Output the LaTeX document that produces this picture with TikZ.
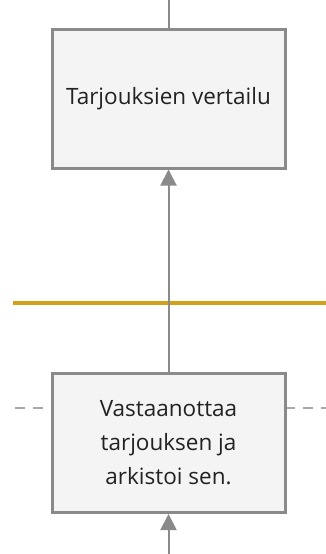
\documentclass[tikz,border=0pt]{standalone}
\usepackage{fontspec}
\setmainfont{Open Sans}
\usetikzlibrary{arrows.meta}
\definecolor{boxfill}{HTML}{F4F4F4}
\definecolor{boxline}{HTML}{8A8A8A}
\definecolor{lanecol}{HTML}{D4A017}
\definecolor{dashcol}{HTML}{A8A8A8}
\definecolor{txtcol}{HTML}{222222}
\begin{document}
\begin{tikzpicture}[x=1pt,y=-1pt,
  taskbox/.style={draw=boxline,fill=boxfill,line width=3pt,minimum width=233pt,minimum height=139pt,align=center,text=txtcol,font=\fontsize{22.5}{34}\selectfont,inner sep=0pt},
  flow/.style={draw=boxline,line width=2pt,-{Triangle[length=16pt,width=16pt]}}]
\useasboundingbox (0,0) rectangle (326,554);
\draw[lanecol,line width=3.5pt] (13,303) -- (326,303);
\draw[dashcol,line width=1.2pt,dash pattern=on 10pt off 8pt] (15,408) -- (326,408);
\node[taskbox] (a) at (168.5,98.5) {Tarjouksien vertailu};
\node[taskbox] (b) at (168.5,443) {Vastaanottaa\\tarjouksen ja\\arkistoi sen.};
\coordinate (top) at (168.5,0);
\coordinate (bot) at (168.5,554);
\draw[boxline,line width=2pt] (top) -- (a.north);
\draw[flow] (b.north) -- (a.south);
\draw[flow] (bot) -- (b.south);
\end{tikzpicture}
\end{document}
